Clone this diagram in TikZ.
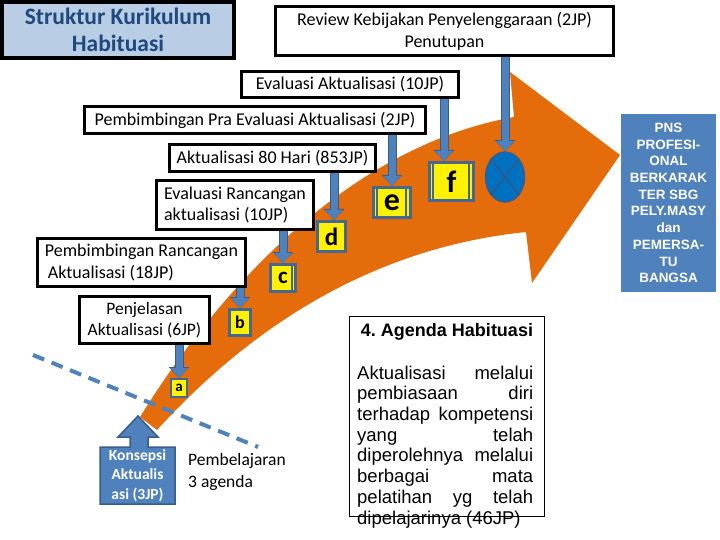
\documentclass[tikz,border=0pt]{standalone}
\usepackage{fontspec}
\setmainfont{Carlito}
\newfontfamily\arialfont{Liberation Sans}
\usetikzlibrary{arrows.meta,shapes.geometric}
\definecolor{arrOrange}{HTML}{E46C0A}
\definecolor{cblue}{HTML}{4F81BD}
\definecolor{cdark}{HTML}{385D8A}
\definecolor{xline}{HTML}{2A5A8E}
\definecolor{titlefill}{HTML}{B9CDE5}
\definecolor{titletext}{HTML}{1F497D}
\definecolor{xblue}{HTML}{0070C0}
\definecolor{lbord}{HTML}{46678F}
\tikzset{
  bx/.style={draw=black, line width=3pt, fill=white, inner sep=0pt, align=center, font=\fontsize{18}{21.5}\selectfont},
  conn/.style={draw=cblue, line width=7pt, -{Triangle[length=10pt,width=17pt]},
     preaction={draw=cdark, line width=9pt, -{Triangle[length=11pt,width=20pt]}}},
  lbox/.style={draw=lbord, line width=3pt, fill=yellow, inner sep=0pt},
  innerline/.style={draw=lbord, line width=1.5pt},
  dashline/.style={draw=cblue, line width=4pt, dash pattern=on 12pt off 8pt},
}
\begin{document}
\begin{tikzpicture}[x=1pt,y=-1pt]
\useasboundingbox (0,0) rectangle (720,540);
% orange curved arrow
\fill[arrOrange] (140,417) .. controls (200,320) and (330,150) .. (514,117) -- (510,72) -- (620,155) -- (532,283) -- (526,232) .. controls (350,250) and (230,350) .. (157,430) -- cycle;
% dashed line
\coordinate (dA) at (33,355);
\coordinate (dB) at (258,447);
\draw[dashline] (dA) -- (dB);
% title
\node[draw=black, line width=4pt, fill=titlefill, minimum width=232pt, minimum height=56pt, inner sep=0pt, align=center, text=titletext, font=\bfseries\fontsize{23.5}{27}\selectfont] (title) at (118,30) {Struktur Kurikulum\\Habituasi};
% black boxes
\node[bx, minimum width=338pt, minimum height=49pt, font=\fontsize{18}{22}\selectfont] (review) at (444.5,31) {Review Kebijakan Penyelenggaraan (2JP)\\Penutupan};
\node[bx, minimum width=217pt, minimum height=26pt] (evalakt) at (350,84.5) {Evaluasi Aktualisasi (10JP)};
\node[bx, minimum width=341pt, minimum height=27pt] (pembpra) at (255,120) {Pembimbingan Pra Evaluasi Aktualisasi (2JP)};
\node[bx, minimum width=206pt, minimum height=27pt] (akt80) at (272.5,158) {Aktualisasi 80 Hari (853JP)};
\node[bx, align=left, minimum width=157pt, minimum height=49pt] (evalranc) at (235,205) {Evaluasi Rancangan\\aktualisasi (10JP)};
\node[bx, align=left, minimum width=208pt, minimum height=48pt] (pembranc) at (141.5,262.5) {Pembimbingan Rancangan\\\hspace{3pt}Aktualisasi (18JP)};
\node[bx, minimum width=130pt, minimum height=47pt, font=\fontsize{17.5}{21}\selectfont] (penj) at (144.5,320) {Penjelasan\\Aktualisasi (6JP)};
% letter boxes
\node[lbox, line width=2pt, minimum width=16pt, minimum height=18pt, font=\bfseries\fontsize{15}{15}\selectfont] (a) at (179,388) {a};
\node[lbox, minimum width=21pt, minimum height=26pt, font=\bfseries\fontsize{18}{18}\selectfont] (b) at (240,322.5) {b};
\node[lbox, minimum width=25pt, minimum height=27pt, font=\bfseries\fontsize{23}{23}\selectfont] (c) at (283,278) {c};
\draw[innerline] ([xshift=-5pt]c.north east) -- ([xshift=-5pt]c.south east);
\node[lbox, minimum width=28pt, minimum height=30pt, font=\bfseries\fontsize{25}{25}\selectfont] (d) at (331.5,236.5) {d};
\node[lbox, minimum width=37pt, minimum height=30pt, font=\bfseries\fontsize{32}{32}\selectfont] (e) at (392,202.5) {e};
\draw[innerline] ([xshift=5pt]e.north west) -- ([xshift=5pt]e.south west);
\draw[innerline] ([xshift=-6pt]e.north east) -- ([xshift=-6pt]e.south east);
\node[lbox, minimum width=44pt, minimum height=38pt, font=\bfseries\fontsize{31}{31}\selectfont] (f) at (451.5,181.5) {f};
\draw[innerline] ([xshift=5pt]f.north west) -- ([xshift=5pt]f.south west);
\draw[innerline] ([xshift=-6pt]f.north east) -- ([xshift=-6pt]f.south east);
\node[ellipse, draw=cdark, fill=xblue, line width=1.5pt, minimum width=39pt, minimum height=50pt, inner sep=0pt] (x) at (505,177) {};
\draw[xline, line width=1.6pt] (x.north west) -- (x.south east) (x.north east) -- (x.south west);
% connectors
\draw[conn] (penj.south -| a.north) -- (a.north);
\draw[conn] (pembranc.south -| b.north) -- (b.north);
\draw[conn] (evalranc.south -| c.north) -- (c.north);
\coordinate (dtop) at ([xshift=2.5pt]d.north);
\draw[conn] (akt80.south -| dtop) -- (dtop);
\draw[conn] (pembpra.south -| e.north) -- (e.north);
\coordinate (ftop) at ([xshift=-7.5pt]f.north);
\draw[conn] (evalakt.south -| ftop) -- (ftop);
\draw[conn] (review.south -| x.north) -- (x.north);
% Konsepsi up-arrow callout
\filldraw[fill=cblue, draw=cdark, line width=1.5pt] (100,447) -- (130,447) -- (130,437) -- (118,437) -- (138,416) -- (158,437) -- (148,437) -- (148,447) -- (175,447) -- (175,504) -- (100,504) -- cycle;
\node[minimum width=75pt, minimum height=57pt, inner sep=0pt, align=center, text=white, font=\bfseries\fontsize{15.5}{19.5}\selectfont] (kons) at (137.5,475.5) {Konsepsi\\Aktualis\\asi (3JP)};
\node[anchor=west, align=left, inner sep=0pt, font=\fontsize{17.5}{21.7}\selectfont] (pemb) at (188,472) {Pembelajaran\\3 agenda};
% PNS box
\node[fill=cblue, minimum width=95pt, minimum height=178pt, inner sep=0pt, align=center, text=white, font=\arialfont\bfseries\fontsize{13.5}{16.7}\selectfont] (pns) at (668.5,203) {PNS\\PROFESI-\\ONAL\\BERKARAK\\TER SBG\\PELY.MASY\\dan\\PEMERSA-\\TU\\BANGSA};
% Agenda box
\node[draw=black, line width=1pt, minimum width=195pt, minimum height=200pt, inner sep=0pt] (agenda) at (447,416.5) {};
\node[inner sep=0pt, font=\arialfont\bfseries\fontsize{18}{20}\selectfont] (agtitle) at (447,332) {4.\ Agenda Habituasi};
\node[anchor=north west, inner sep=0pt, align=left, font=\arialfont\fontsize{18.5}{20.7}\selectfont] (agbody) at (357,365.5) {%
\makebox[176pt][s]{Aktualisasi melalui}\\
\makebox[176pt][s]{pembiasaan diri}\\
\makebox[176pt][s]{terhadap kompetensi}\\
\makebox[176pt][s]{yang telah}\\
\makebox[176pt][s]{diperolehnya melalui}\\
\makebox[176pt][s]{berbagai mata}\\
\makebox[176pt][s]{pelatihan yg telah}\\
dipelajarinya (46JP)};
\end{tikzpicture}
\end{document}
